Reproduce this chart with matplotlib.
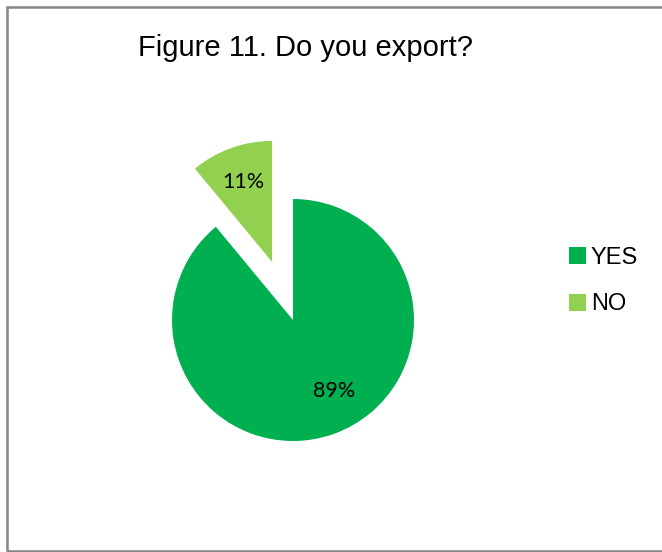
import matplotlib
matplotlib.use("Agg")
import matplotlib.pyplot as plt
from matplotlib.patches import Patch, Rectangle

# dados do gráfico
categorias = ["YES", "NO"]
valores = [89, 11]
cores = ["#00B050", "#92D050"]
explode = [0, 0.51]

fig = plt.figure(figsize=(6.62, 5.52), dpi=100)

# moldura cinza em volta do gráfico
fig.patches.append(Rectangle((7/662, 1/552), 700/662, 544/552, transform=fig.transFigure,
                             fill=False, edgecolor="#868686", linewidth=1.8))

ax = fig.add_axes([(293-150)/662, (232-150)/552, 300/662, 300/552])
wedges, textos, pct = ax.pie(valores, colors=cores, explode=explode, startangle=90,
                             counterclock=False, radius=1, autopct="%1.0f%%",
                             pctdistance=0.7, textprops={"fontsize": 15.5, "family": "Lato"})
# rótulo da fatia grande um pouco mais para a direita e para cima
x, y = pct[0].get_position()
pct[0].set_position((x + 0.1, y + 0.07))

ax.set_xlim(-150/121, 150/121)
ax.set_ylim(-150/121, 150/121)
ax.set_aspect("equal")
ax.axis("off")

fig.text(306/662, 1-48/552, "Figure 11. Do you export?", ha="center", va="center",
         fontsize=21, family="Liberation Sans")

handles = [Patch(facecolor=c, edgecolor="none") for c in cores]
fig.legend(handles, categorias, loc="center left", bbox_to_anchor=(548/662, 1-281/552),
           frameon=False, handlelength=0.72, handleheight=0.72, handletextpad=0.2,
           labelspacing=1.05, prop={"family": "Liberation Sans", "size": 17})

fig.savefig("out.png", dpi=100)
